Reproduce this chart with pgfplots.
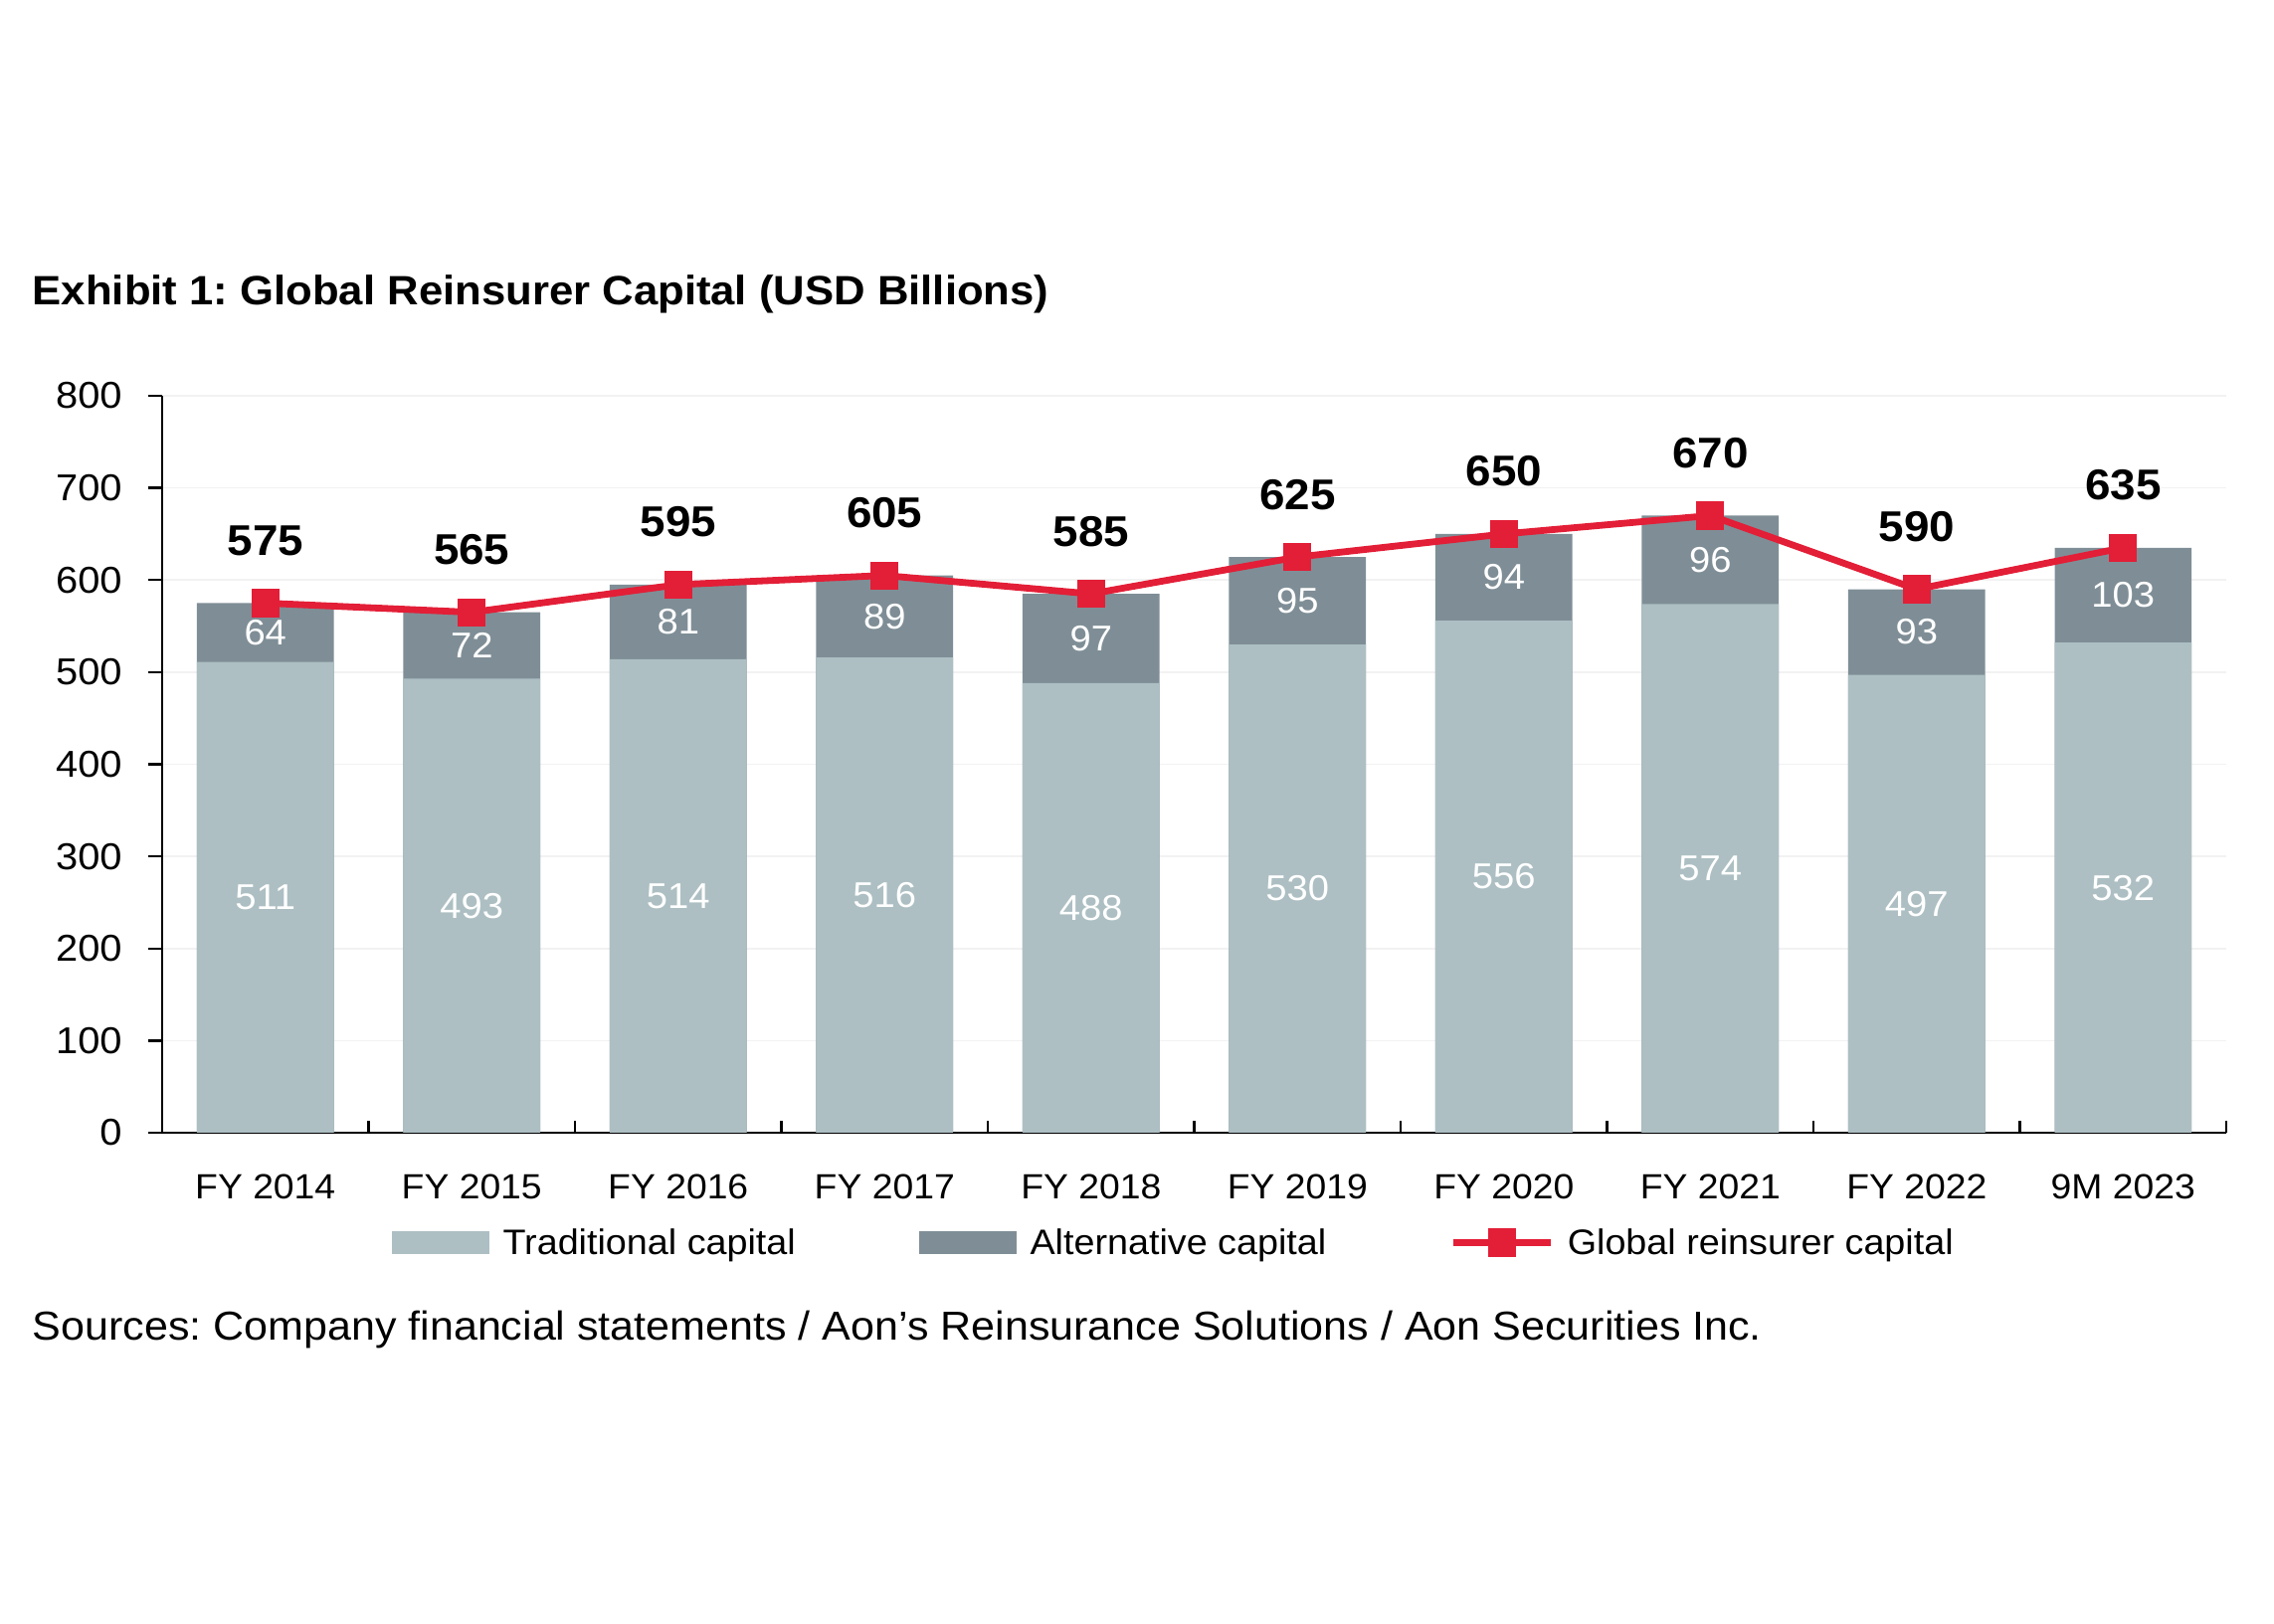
\documentclass[border=0pt]{standalone}
\usepackage{fontspec}
\setmainfont{Liberation Sans}[FakeStretch=1.06]
\usepackage{pgfplots}
\usepackage{pgfplotstable}
\pgfplotsset{compat=1.18}
\definecolor{tradc}{HTML}{ADBFC3}
\definecolor{altc}{HTML}{7F8E96}
\definecolor{gred}{HTML}{E31E37}

\pgfplotstableread{
x trad alt total tradmid altmid
0 511 64 575 255.5 543
1 493 72 565 246.5 529
2 514 81 595 257 554.5
3 516 89 605 258 560.5
4 488 97 585 244 536.5
5 530 95 625 265 577.5
6 556 94 650 278 603
7 574 96 670 287 622
8 497 93 590 248.5 543.5
9 532 103 635 266 583.5
}\data

\begin{document}
\frenchspacing
\begin{tikzpicture}
\path[use as bounding box] (-40.75pt,-123.5pt) rectangle (530.75pt,284.75pt);
\begin{axis}[
  at={(0pt,0pt)}, anchor=south west,
  scale only axis, width=518.75pt, height=185.25pt,
  xmin=-0.5, xmax=9.5, ymin=0, ymax=800,
  clip=false,
  axis lines*=left,
  axis line style={line width=0.6pt, black},
  tick align=outside,
  major tick length=3.6pt,
  tick style={line width=0.6pt, black},
  ytick={0,100,...,800},
  ymajorgrids,
  y grid style={black!5, line width=0.4pt},
  /pgf/number format/assume math mode=true,
  yticklabel style={font=\fontsize{9.4}{10}\selectfont, anchor=east, inner sep=0pt, xshift=-6.3pt},
  xtick={0,...,9},
  xticklabels={FY 2014,FY 2015,FY 2016,FY 2017,FY 2018,FY 2019,FY 2020,FY 2021,FY 2022,9M 2023},
  x tick style={draw=none},
  xticklabel style={font=\fontsize{8.8}{10}\selectfont, anchor=base, inner sep=0pt, yshift=-13.15pt},
  extra x ticks={-0.5,0.5,1.5,2.5,3.5,4.5,5.5,6.5,7.5,8.5,9.5},
  extra x tick labels={},
  extra x tick style={tick align=inside, major tick length=3pt, x tick style={draw=black, line width=0.6pt}, xmajorgrids=false},
  legend style={at={(0.1113,-0.1487)}, anchor=west, draw=none, fill=none,
    inner sep=0pt, outer sep=0pt, legend columns=3,
    font=\fontsize{8.9}{10}\selectfont,
    nodes={inner sep=0pt, text height=6.3pt, text depth=0pt},
    /tikz/every odd column/.append style={column sep=3.3pt},
    /tikz/every even column/.append style={column sep=31pt}},
  legend cell align=left,
]
\addplot[ybar, bar width=34.4pt, bar shift=0pt, fill=altc, draw=none, forget plot] table[x=x, y=total] {\data};
\addplot[ybar, bar width=34.4pt, bar shift=0pt, fill=tradc, draw=none, forget plot] table[x=x, y=trad] {\data};
\addplot[draw=none, mark=none, forget plot, nodes near coords, point meta=explicit symbolic,
  every node near coord/.append style={anchor=center, text=white, font=\fontsize{9}{10}\selectfont}]
  table[x=x, y=tradmid, meta=trad] {\data};
\addplot[draw=none, mark=none, forget plot, nodes near coords, point meta=explicit symbolic,
  every node near coord/.append style={anchor=center, text=white, font=\fontsize{9}{10}\selectfont}]
  table[x=x, y=altmid, meta=alt] {\data};
\addplot[color=gred, line width=1.7pt, mark=square*, mark size=3.4pt, mark options={solid, fill=gred, draw=gred, line width=0pt}, forget plot,
  nodes near coords, point meta=explicit symbolic,
  every node near coord/.append style={anchor=base, yshift=12pt, text=black, font=\bfseries\fontsize{10.8}{12}\selectfont}]
  table[x=x, y=total, meta=total] {\data};

\addlegendimage{legend image code/.code={\fill[tradc] (0pt,-2.7pt) rectangle (24.2pt,2.7pt);}}
\addlegendentry{Traditional capital}
\addlegendimage{legend image code/.code={\fill[altc] (0pt,-2.7pt) rectangle (24.2pt,2.7pt);}}
\addlegendentry{Alternative capital}
\addlegendimage{legend image code/.code={\draw[gred, line width=1.7pt] (0pt,0pt) -- (24.6pt,0pt); \fill[gred] (8.9pt,-3.4pt) rectangle (15.7pt,3.4pt);}}
\addlegendentry{Global reinsurer capital}
\end{axis}
\node[anchor=base west, inner sep=0pt, font=\bfseries\fontsize{10.3}{12}\selectfont] at (-32.75pt,208pt) {Exhibit 1: Global Reinsurer Capital (USD Billions)};
\node[anchor=base west, inner sep=0pt, font=\fontsize{10.15}{12}\selectfont] at (-32.75pt,-52.25pt) {Sources: Company financial statements / Aon’s Reinsurance Solutions / Aon Securities Inc.};
\end{tikzpicture}
\end{document}
